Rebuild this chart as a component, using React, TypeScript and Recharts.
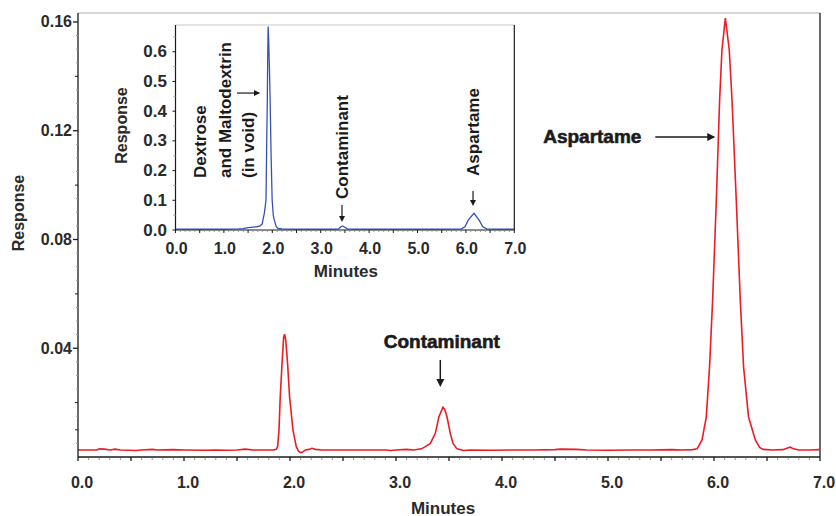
import { LineChart, Line, XAxis, YAxis, ReferenceLine, ReferenceDot, Label } from 'recharts'

const FONT = '"Liberation Sans", Arial, Helvetica, sans-serif'
const INK = '#1b1b1b'
const TICK_INK = '#2a2a2a'

// main chromatogram (red), minutes / response
const mainMinutes = [
  0.0, 0.1, 0.18, 0.2, 0.25, 0.3, 0.35, 0.4, 0.55, 0.6, 0.7, 0.75, 0.9, 1.0, 1.2, 1.3, 1.4, 1.5, 1.58, 1.65, 1.75,
  1.84, 1.871, 1.883, 1.896, 1.908, 1.925, 1.94, 1.949, 1.96, 1.977, 1.996, 2.028, 2.059, 2.08, 2.097, 2.12, 2.144,
  2.18, 2.207, 2.24, 2.3, 2.5, 2.7, 2.9, 2.95, 3.0, 3.1, 3.166, 3.24, 3.276, 3.324, 3.371, 3.405, 3.443, 3.46, 3.481,
  3.512, 3.538, 3.575, 3.638, 3.7, 3.9, 4.1, 4.3, 4.5, 4.55, 4.7, 4.8, 5.0, 5.2, 5.4, 5.6, 5.7, 5.8, 5.84, 5.887,
  5.927, 5.958, 5.987, 6.022, 6.053, 6.075, 6.107, 6.144, 6.17, 6.21, 6.248, 6.279, 6.326, 6.39, 6.43, 6.465, 6.55,
  6.65, 6.7, 6.72, 6.75, 6.8, 6.9, 7.0,
]
const mainResponse = [
  0.0026, 0.0026, 0.0026, 0.003, 0.0029, 0.0026, 0.0029, 0.0026, 0.0024, 0.0026, 0.0028, 0.0026, 0.0027, 0.0026,
  0.0025, 0.0026, 0.0025, 0.0026, 0.0029, 0.0026, 0.0026, 0.0026, 0.0028, 0.0038, 0.0099, 0.0222, 0.0345, 0.044,
  0.0452, 0.043, 0.0345, 0.0222, 0.0099, 0.0038, 0.0022, 0.0016, 0.0018, 0.0026, 0.0028, 0.0032, 0.0028, 0.0026,
  0.0026, 0.0026, 0.0026, 0.0024, 0.0026, 0.0028, 0.0026, 0.003, 0.0038, 0.005, 0.0087, 0.0148, 0.0183, 0.0175,
  0.0148, 0.0087, 0.005, 0.003, 0.0024, 0.0026, 0.0025, 0.0026, 0.0026, 0.0027, 0.0029, 0.0028, 0.0026, 0.0025,
  0.0026, 0.0026, 0.0027, 0.0026, 0.0027, 0.003, 0.0063, 0.0147, 0.0331, 0.0577, 0.0945, 0.1313, 0.1497, 0.1614,
  0.1497, 0.1313, 0.0945, 0.0577, 0.0331, 0.0147, 0.0063, 0.0035, 0.0028, 0.0026, 0.0027, 0.0034, 0.0036, 0.003,
  0.0026, 0.0026, 0.0027,
]

// inset chromatogram (blue), full scale
const insetMinutes = [
  0.0, 0.5, 1.0, 1.3, 1.4, 1.5, 1.6, 1.68, 1.75, 1.79, 1.814, 1.835, 1.87, 1.885, 1.897, 1.905, 1.914, 1.925, 1.94,
  1.955, 1.975, 1.997, 2.02, 2.04, 2.08, 2.12, 2.2, 2.5, 3.0, 3.3, 3.37, 3.42, 3.454, 3.49, 3.55, 3.7, 4.5, 5.5,
  5.91, 5.98, 6.05, 6.167, 6.27, 6.35, 6.43, 6.6, 7.0,
]
const insetResponse = [
  0.003, 0.003, 0.003, 0.0035, 0.0045, 0.008, 0.01, 0.011, 0.014, 0.02, 0.039, 0.056, 0.101, 0.3, 0.438, 0.58,
  0.685, 0.64, 0.55, 0.438, 0.25, 0.101, 0.05, 0.034, 0.012, 0.005, 0.0035, 0.003, 0.003, 0.003, 0.004, 0.011,
  0.0135, 0.01, 0.004, 0.003, 0.003, 0.003, 0.004, 0.011, 0.034, 0.056, 0.034, 0.011, 0.004, 0.003, 0.003,
]

const mainXLabels = [0, 1, 2, 3, 4, 5, 6, 7]
const mainYLabels = [0.04, 0.08, 0.12, 0.16]
const insetXLabels = [0, 1, 2, 3, 4, 5, 6, 7]
const insetYLabels = [0, 0.1, 0.2, 0.3, 0.4, 0.5, 0.6]

const MAIN_Y_TOP = 0.1633
const INSET_Y_TOP = 0.69

const mainData = mainMinutes.map((t, i) => ({ t, v: mainResponse[i] }))
const insetData = insetMinutes.map((t, i) => ({ t, v: insetResponse[i] }))

const steps = (from: number, to: number, step: number) => {
  const out: number[] = []
  for (let i = 0; from + i * step <= to + 1e-9; i++) out.push(+(from + i * step).toFixed(4))
  return out
}
const near = (a: number, b: number) => Math.abs(a - b) < 1e-6
const isMultiple = (v: number, m: number) => Math.abs(v / m - Math.round(v / m)) < 1e-6

const tickText = { fontFamily: FONT, fontWeight: 700, fill: TICK_INK }

function MainXTick(p: any) {
  const v = p.payload.value
  const labeled = mainXLabels.some((l) => near(l, v))
  return (
    <g>
      {isMultiple(v, 0.5) ? (
        <line x1={p.x} x2={p.x} y1={p.y} y2={p.y + 4} stroke={INK} strokeWidth={1.3} />
      ) : (
        <line x1={p.x} x2={p.x} y1={p.y + 1} y2={p.y + 3} stroke='#999' />
      )}
      {labeled && (
        <text x={p.x + 4} y={p.y + 25} textAnchor='middle' dominantBaseline='central' fontSize={16} {...tickText}>
          {v.toFixed(1)}
        </text>
      )}
    </g>
  )
}

function MainYTick(p: any) {
  const v = p.payload.value
  if (v <= 0) return <g />
  const labeled = mainYLabels.some((l) => near(l, v))
  const medium = isMultiple(v, 0.02) || near(v, 0.01)
  return (
    <g>
      {labeled ? (
        <line x1={p.x - 5} x2={p.x} y1={p.y} y2={p.y} stroke={INK} strokeWidth={1.3} />
      ) : medium ? (
        <line x1={p.x - 3} x2={p.x} y1={p.y} y2={p.y} stroke={INK} />
      ) : (
        <line x1={p.x - 2} x2={p.x} y1={p.y} y2={p.y} stroke='#999' />
      )}
      {labeled && (
        <text x={p.x - 6} y={p.y} textAnchor='end' dominantBaseline='central' fontSize={16} {...tickText}>
          {v.toFixed(2)}
        </text>
      )}
    </g>
  )
}

function InsetXTick(p: any) {
  const v = p.payload.value
  const labeled = insetXLabels.some((l) => near(l, v))
  return (
    <g>
      {isMultiple(v, 0.5) ? (
        <line x1={p.x} x2={p.x} y1={p.y} y2={p.y + 3} stroke={INK} />
      ) : (
        <line x1={p.x} x2={p.x} y1={p.y + 1} y2={p.y + 2} stroke='#999' />
      )}
      {labeled && (
        <text x={p.x + 1} y={p.y + 18} textAnchor='middle' dominantBaseline='central' fontSize={16} {...tickText}>
          {v.toFixed(1)}
        </text>
      )}
    </g>
  )
}

function InsetYTick(p: any) {
  const v = p.payload.value
  const labeled = insetYLabels.some((l) => near(l, v))
  return (
    <g>
      {labeled ? (
        <line x1={p.x - 3} x2={p.x} y1={p.y} y2={p.y} stroke={INK} />
      ) : (
        <line x1={p.x - 2} x2={p.x} y1={p.y} y2={p.y} stroke='#999' />
      )}
      {labeled && (
        <text x={p.x - 8.5} y={p.y} textAnchor='end' dominantBaseline='central' fontSize={17} {...tickText}>
          {v.toFixed(1)}
        </text>
      )}
    </g>
  )
}

const axisTitle = (text: string, size: number, dx: number, dy: number, vertical: boolean) => (props: any) => {
  const vb = props.viewBox
  const x = vertical ? vb.x + dx : vb.x + vb.width / 2 + dx
  const y = vertical ? vb.y + vb.height / 2 + dy : vb.y + dy
  return (
    <text
      x={x}
      y={y}
      transform={vertical ? `rotate(-90 ${x} ${y})` : undefined}
      textAnchor='middle'
      dominantBaseline='central'
      fontSize={size}
      fontFamily={FONT}
      fontWeight={700}
      fill={TICK_INK}
    >
      {text}
    </text>
  )
}

const textShape = (text: string, size: number, vertical: boolean, heavy = false) => (p: any) => (
  <text
    x={p.cx}
    y={p.cy}
    transform={vertical ? `rotate(-90 ${p.cx} ${p.cy})` : undefined}
    textAnchor={vertical ? 'start' : 'middle'}
    dominantBaseline='central'
    fontSize={size}
    fontFamily={FONT}
    fontWeight={700}
    fill={INK}
    stroke={heavy ? INK : 'none'}
    strokeWidth={heavy ? 0.6 : 0}
  >
    {text}
  </text>
)

const headShape = (dir: 'right' | 'down', size: number) => (p: any) => {
  const { cx, cy } = p
  const h = size / 2
  const pts =
    dir === 'right'
      ? `${cx},${cy} ${cx - size},${cy - h} ${cx - size},${cy + h}`
      : `${cx},${cy} ${cx - h},${cy - size} ${cx + h},${cy - size}`
  return <polygon points={pts} fill={INK} />
}

export default function App() {
  return (
    <div style={{ position: 'absolute', left: 0, top: 0, width: 836, height: 516, background: '#fff' }}>
      <div style={{ position: 'absolute', left: 0, top: 0 }}>
        <LineChart width={836} height={516} data={mainData} margin={{ top: 13, right: 16, bottom: 0, left: 0 }}>
          <XAxis
            dataKey='t'
            type='number'
            domain={[0, 7]}
            allowDataOverflow
            ticks={steps(0, 7, 0.1)}
            interval={0}
            height={59}
            tickSize={0}
            tickMargin={0}
            tickLine={false}
            tick={<MainXTick />}
            axisLine={{ stroke: INK, strokeWidth: 1.3 }}
          >
            <Label content={axisTitle('Minutes', 17, -6, 51, false)} />
          </XAxis>
          <YAxis
            type='number'
            domain={[0, MAIN_Y_TOP]}
            allowDataOverflow
            ticks={steps(0, 0.16, 0.005)}
            interval={0}
            width={78}
            tickSize={0}
            tickMargin={0}
            tickLine={false}
            tick={<MainYTick />}
            axisLine={{ stroke: INK, strokeWidth: 1.3 }}
          >
            <Label content={axisTitle('Response', 16, 18.5, -22, true)} />
          </YAxis>
          <ReferenceLine y={MAIN_Y_TOP} stroke='#c9c9c9' strokeWidth={1.5} />
          <ReferenceLine x={7} stroke={INK} strokeWidth={1.3} />
          <Line
            dataKey='v'
            type='linear'
            stroke='#ec1c24'
            strokeWidth={1.6}
            dot={false}
            isAnimationActive={false}
          />
          <ReferenceDot x={4.852} y={0.1177} r={0} shape={textShape('Aspartame', 19, false, true)} />
          <ReferenceLine
            segment={[
              { x: 5.446, y: 0.1177 },
              { x: 6.0, y: 0.1177 },
            ]}
            stroke={INK}
            strokeWidth={1.5}
          />
          <ReferenceDot x={6.012} y={0.1177} r={0} shape={headShape('right', 8)} />
          <ReferenceDot x={3.432} y={0.0423} r={0} shape={textShape('Contaminant', 19, false, true)} />
          <ReferenceLine
            segment={[
              { x: 3.418, y: 0.0357 },
              { x: 3.418, y: 0.028 },
            ]}
            stroke={INK}
            strokeWidth={1.5}
          />
          <ReferenceDot x={3.418} y={0.0257} r={0} shape={headShape('down', 8)} />
        </LineChart>
      </div>
      <div style={{ position: 'absolute', left: 0, top: 0 }}>
        <LineChart width={540} height={290} data={insetData} margin={{ top: 25, right: 25.7, bottom: 0, left: 0 }}>
          <XAxis
            dataKey='t'
            type='number'
            domain={[0, 7]}
            allowDataOverflow
            ticks={steps(0, 7, 0.1)}
            interval={0}
            height={60}
            tickSize={0}
            tickMargin={0}
            tickLine={false}
            tick={<InsetXTick />}
            axisLine={{ stroke: INK, strokeWidth: 1.2 }}
          >
            <Label content={axisTitle('Minutes', 17, 1, 41.7, false)} />
          </XAxis>
          <YAxis
            type='number'
            domain={[0, INSET_Y_TOP]}
            allowDataOverflow
            ticks={steps(0, 0.65, 0.05)}
            interval={0}
            width={175.5}
            tickSize={0}
            tickMargin={0}
            tickLine={false}
            tick={<InsetYTick />}
            axisLine={{ stroke: INK, strokeWidth: 1.2 }}
          >
            <Label content={axisTitle('Response', 16, 121.7, -2, true)} />
          </YAxis>
          <ReferenceLine y={INSET_Y_TOP} stroke='#c9c9c9' strokeWidth={1.2} />
          <ReferenceLine x={7} stroke={INK} strokeWidth={1.2} />
          <Line
            dataKey='v'
            type='linear'
            stroke='#3552b3'
            strokeWidth={1.3}
            dot={false}
            isAnimationActive={false}
          />
          <ReferenceDot x={0.515} y={0.175} r={0} shape={textShape('Dextrose', 17, true)} />
          <ReferenceDot x={1.023} y={0.175} r={0} shape={textShape('and Maltodextrin', 17, true)} />
          <ReferenceDot x={1.504} y={0.175} r={0} shape={textShape('(in void)', 17, true)} />
          <ReferenceLine
            segment={[
              { x: 1.271, y: 0.461 },
              { x: 1.73, y: 0.461 },
            ]}
            stroke={INK}
            strokeWidth={1.2}
          />
          <ReferenceDot x={1.746} y={0.461} r={0} shape={headShape('right', 6)} />
          <ReferenceDot x={3.461} y={0.1044} r={0} shape={textShape('Contaminant', 17, true)} />
          <ReferenceLine
            segment={[
              { x: 3.44, y: 0.084 },
              { x: 3.44, y: 0.035 },
            ]}
            stroke={INK}
            strokeWidth={1.2}
          />
          <ReferenceDot x={3.44} y={0.027} r={0} shape={headShape('down', 6)} />
          <ReferenceDot x={6.147} y={0.182} r={0} shape={textShape('Aspartame', 17, true)} />
          <ReferenceLine
            segment={[
              { x: 6.147, y: 0.131 },
              { x: 6.147, y: 0.09 },
            ]}
            stroke={INK}
            strokeWidth={1.2}
          />
          <ReferenceDot x={6.147} y={0.081} r={0} shape={headShape('down', 6)} />
        </LineChart>
      </div>
    </div>
  )
}
